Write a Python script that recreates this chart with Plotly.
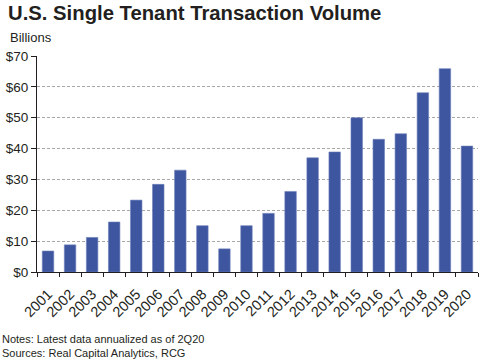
import plotly.graph_objects as go

years = [str(y) for y in range(2001, 2021)]
volume = [6.8, 8.8, 11.2, 16.2, 23.3, 28.4, 33.0, 15.0, 7.5, 15.0,
          19.0, 26.1, 37.0, 38.9, 50.0, 43.0, 44.8, 58.1, 65.9, 40.8]
y_ticks = [0, 10, 20, 30, 40, 50, 60, 70]
y_tick_labels = ["$" + str(v) for v in y_ticks]

title = "U.S. Single Tenant Transaction Volume"
unit_label = "Billions"
notes = "Notes: Latest data annualized as of 2Q20<br>Sources: Real Capital Analytics, RCG"

font = "Liberation Sans, Arial, sans-serif"

L, R, T, B = 37, 1, 56, 87
PW = 479 - L - R
PH = 359 - T - B

fig = go.Figure(go.Bar(
    x=years, y=volume,
    marker=dict(color="#3E55A0", line=dict(color="#6C7FBA", width=0.6)),
))

fig.update_layout(
    width=479, height=359,
    margin=dict(l=L, r=R, t=T, b=B, autoexpand=False),
    paper_bgcolor="white", plot_bgcolor="white",
    bargap=0.48,
    showlegend=False,
    font=dict(family=font, color="#231F20"),
    xaxis=dict(
        type="category",
        tickangle=-45,
        automargin=False,
        ticks="outside", tickson="boundaries", ticklen=4, tickcolor="#231F20",
        tickfont=dict(size=14.5, family=font, color="#231F20"),
        ticklabelstandoff=7,
        showline=True, linecolor="#231F20", linewidth=1,
        showgrid=False,
    ),
    yaxis=dict(
        range=[0, 70],
        automargin=False,
        tickvals=y_ticks, ticktext=y_tick_labels,
        ticks="outside", ticklen=5, tickcolor="#231F20",
        tickfont=dict(size=13.5, family=font, color="#231F20"),
        showline=True, linecolor="#231F20", linewidth=1,
        showgrid=True, gridcolor="#A8A8A8", griddash="3px,2px", gridwidth=1,
        zeroline=False,
    ),
    annotations=[
        dict(text="<b>" + title + "</b>", xref="paper", yref="paper",
             x=(6 - L) / PW, y=1 + (T - 0) / PH, xanchor="left", yanchor="top",
             showarrow=False, font=dict(size=20.3, family=font, color="#231F20")),
        dict(text=unit_label, xref="paper", yref="paper",
             x=(8 - L) / PW, y=1 + (T - 28) / PH, xanchor="left", yanchor="top",
             showarrow=False, font=dict(size=13, family=font, color="#231F20")),
        dict(text=notes, xref="paper", yref="paper", align="left",
             x=(0 - L) / PW, y=-(331 - (T + PH)) / PH, xanchor="left", yanchor="top",
             showarrow=False, font=dict(size=11, family=font, color="#231F20")),
    ],
)

fig.write_html("out.html",
               config={"displayModeBar": False},
               post_script="document.body.style.margin='0';document.body.style.overflow='hidden';")
